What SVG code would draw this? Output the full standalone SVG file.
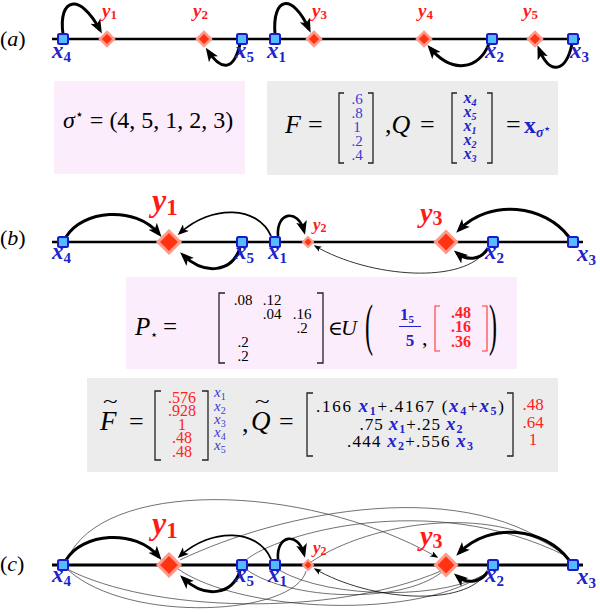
<svg xmlns="http://www.w3.org/2000/svg" width="600" height="614" viewBox="0 0 600 614" font-family="Liberation Serif, DejaVu Serif, serif">
<defs>
<style>
.gb{fill:#ececec}
.pk{fill:#fcedfc}
.ax{stroke:#000;stroke-width:2.3;fill:none}
.sq{fill:#55bbff;stroke:#1a1acc;stroke-width:2}
.dm{fill:#ff3311;stroke:#ff9a8a;stroke-width:2.5}
.xl{font-weight:bold;font-style:italic;font-size:23px;fill:#2222cc}
.xl .s{font-style:normal;font-size:15px}
.yl{font-weight:bold;font-style:italic;font-size:19px;fill:#ff1a1a}
.t{fill:none;stroke:#000;stroke-width:3;marker-end:url(#hT)}
.m{fill:none;stroke:#000;stroke-width:1.8;marker-end:url(#hM)}
.n{fill:none;stroke:#000;stroke-width:0.8;marker-end:url(#hS)}
.th{fill:none;stroke:#333;stroke-width:0.7}
.br{fill:none;stroke:#222;stroke-width:1.3}
.rbr{fill:none;stroke:#ff3333;stroke-width:1.1}
.bbx{font-weight:bold;font-style:italic;fill:#2222cc}
.bbs{font-weight:bold;fill:#2222cc}
</style>
<marker id="hT" viewBox="0 0 14 12" refX="10" refY="6" markerWidth="14" markerHeight="12" markerUnits="userSpaceOnUse" orient="auto"><path d="M0,0.5 L14,6 L0,11.5 L3.5,6 z" fill="#000"/></marker>
<marker id="hM" viewBox="0 0 11 9" refX="8" refY="4.5" markerWidth="11" markerHeight="9" markerUnits="userSpaceOnUse" orient="auto"><path d="M0,0 L11,4.5 L0,9 L2.8,4.5 z" fill="#000"/></marker>
<marker id="hS" viewBox="0 0 8 6" refX="6.5" refY="3" markerWidth="8" markerHeight="6" markerUnits="userSpaceOnUse" orient="auto"><path d="M0,0 L8,3 L0,6 L2,3 z" fill="#000"/></marker>
</defs>

<text x="0" y="46" font-size="22">(<tspan font-style="italic">a</tspan>)</text>
<text x="0" y="245" font-size="22">(<tspan font-style="italic">b</tspan>)</text>
<text x="0" y="571" font-size="22">(<tspan font-style="italic">c</tspan>)</text>

<g id="box-sigma">
<rect class="pk" x="54" y="81" width="191" height="93"/>
<text x="63" y="128" font-size="24"><tspan font-style="italic">σ</tspan><tspan font-size="14" dy="-9">⋆</tspan><tspan dy="9"> = (4, 5, 1, 2, 3)</tspan></text>
</g>
<g id="box-FQ">
<rect class="gb" x="267" y="81" width="291" height="94"/>
<text x="285" y="133" font-size="26" font-style="italic">F</text>
<text x="308" y="133" font-size="26">=</text>
<path class="br" d="M344,93 H339 V163 H344 M368,93 H373 V163 H368"/>
<g font-size="15" text-anchor="middle">
<text x="357" y="104" fill="#3a3ad6">.6</text>
<text x="357" y="118" fill="#3a3ad6">.8</text>
<text x="357" y="132" fill="#3a3ad6">1</text>
<text x="357" y="146" fill="#3a3ad6">.2</text>
<text x="357" y="160" fill="#3a3ad6">.4</text>
</g>
<text x="385" y="133" font-size="26">,<tspan font-style="italic">Q</tspan></text>
<text x="420" y="133" font-size="26">=</text>
<path class="br" d="M457,93 H452 V163 H457 M487,93 H492 V163 H487"/>
<text class="bbx" x="470" y="103" font-size="16" text-anchor="middle">x<tspan class="bbs" font-size="10" dy="3">4</tspan></text>
<text class="bbx" x="470" y="117" font-size="16" text-anchor="middle">x<tspan class="bbs" font-size="10" dy="3">5</tspan></text>
<text class="bbx" x="470" y="131" font-size="16" text-anchor="middle">x<tspan class="bbs" font-size="10" dy="3">1</tspan></text>
<text class="bbx" x="470" y="145" font-size="16" text-anchor="middle">x<tspan class="bbs" font-size="10" dy="3">2</tspan></text>
<text class="bbx" x="470" y="159" font-size="16" text-anchor="middle">x<tspan class="bbs" font-size="10" dy="3">3</tspan></text>
<text x="506" y="133" font-size="26">=</text>
<text class="bbs" x="524" y="133" font-size="24">x<tspan class="bbx" font-size="14" dy="4">σ</tspan><tspan font-size="10" dy="-5">⋆</tspan></text>
</g>

<g id="box-P">
<rect class="pk" x="126" y="277" width="391" height="92"/>
<text x="135" y="335" font-size="25"><tspan font-style="italic">P</tspan><tspan font-size="13" dy="4">⋆</tspan></text>
<text x="163" y="335" font-size="25">=</text>
<path class="br" d="M225,293 H219 V363 H225 M317,293 H323 V363 H317"/>
<g font-size="15" text-anchor="middle">
<text x="243" y="305">.08</text>
<text x="272" y="305">.12</text>
<text x="272" y="319">.04</text>
<text x="302" y="319">.16</text>
<text x="302" y="333">.2</text>
<text x="243" y="347">.2</text>
<text x="243" y="361">.2</text>
</g>
<text x="328" y="335" font-size="20">∈</text>
<text x="341" y="335" font-size="22" font-style="italic">U</text>
<text transform="translate(365,344) scale(1,2.4)" font-size="24">(</text>
<text class="bbs" x="400" y="320" font-size="17">1<tspan font-size="11" dy="3">5</tspan></text>
<path d="M399,326.5 H421" stroke="#2222cc" stroke-width="1"/>
<text class="bbs" x="410" y="346" font-size="17" text-anchor="middle">5</text>
<text x="422" y="345" font-size="22">,</text>
<path class="rbr" d="M440,306 H435 V351 H440 M482,306 H487 V351 H482"/>
<g font-size="16" font-weight="bold" text-anchor="middle">
<text x="461" y="318" fill="#ff2222">.48</text>
<text x="461" y="332" fill="#ff2222">.16</text>
<text x="461" y="347" fill="#ff2222">.36</text>
</g>
<text transform="translate(489,344) scale(1,2.4)" font-size="24">)</text>
</g>

<g id="box-FQtilde">
<rect class="gb" x="87" y="378" width="471" height="94"/>
<text x="100" y="430" font-size="27" font-style="italic">F</text>
<text transform="translate(103,408) scale(1.5,1)" font-size="18">~</text>
<text x="129" y="430" font-size="26">=</text>
<path class="br" d="M161,391 H155 V460 H161 M202,391 H208 V460 H202"/>
<g font-size="16" text-anchor="middle">
<text x="182" y="403" fill="#ff2222">.576</text>
<text x="182" y="416" fill="#ff2222">.928</text>
<text x="182" y="430" fill="#ff2222">1</text>
<text x="182" y="443" fill="#ff2222">.48</text>
<text x="182" y="457" fill="#ff2222">.48</text>
</g>
<g font-size="15" font-style="italic">
<text x="214" y="397" fill="#3a3ad6">x<tspan font-size="10" font-style="normal" dy="3">1</tspan></text>
<text x="214" y="411" fill="#3a3ad6">x<tspan font-size="10" font-style="normal" dy="3">2</tspan></text>
<text x="214" y="424" fill="#3a3ad6">x<tspan font-size="10" font-style="normal" dy="3">3</tspan></text>
<text x="214" y="437" fill="#3a3ad6">x<tspan font-size="10" font-style="normal" dy="3">4</tspan></text>
<text x="214" y="450" fill="#3a3ad6">x<tspan font-size="10" font-style="normal" dy="3">5</tspan></text>
</g>
<text x="242" y="432" font-size="26">,</text>
<text x="251" y="430" font-size="27" font-style="italic">Q</text>
<text transform="translate(255,408) scale(1.5,1)" font-size="18">~</text>
<text x="279" y="430" font-size="26">=</text>
<path class="br" d="M313,393 H307 V456 H313 M507,393 H513 V456 H507"/>
<text x="410" y="412" font-size="17" text-anchor="middle" textLength="188" lengthAdjust="spacing">.166 <tspan class="bbx" font-size="19">x</tspan><tspan class="bbs" font-size="12" dy="3">1</tspan><tspan dy="-3">+.4167 (</tspan><tspan class="bbx" font-size="19">x</tspan><tspan class="bbs" font-size="12" dy="3">4</tspan><tspan dy="-3">+</tspan><tspan class="bbx" font-size="19">x</tspan><tspan class="bbs" font-size="12" dy="3">5</tspan><tspan dy="-3">)</tspan></text>
<text x="411" y="430" font-size="17" text-anchor="middle" textLength="103" lengthAdjust="spacing">.75 <tspan class="bbx" font-size="19">x</tspan><tspan class="bbs" font-size="12" dy="3">1</tspan><tspan dy="-3">+.25 </tspan><tspan class="bbx" font-size="19">x</tspan><tspan class="bbs" font-size="12" dy="3">2</tspan></text>
<text x="410" y="447" font-size="17" text-anchor="middle" textLength="126" lengthAdjust="spacing">.444 <tspan class="bbx" font-size="19">x</tspan><tspan class="bbs" font-size="12" dy="3">2</tspan><tspan dy="-3">+.556 </tspan><tspan class="bbx" font-size="19">x</tspan><tspan class="bbs" font-size="12" dy="3">3</tspan></text>
<g font-size="17" text-anchor="middle">
<text x="533" y="410" fill="#ff2222">.48</text>
<text x="533" y="428" fill="#ff2222">.64</text>
<text x="533" y="445" fill="#ff2222">1</text>
</g>
</g>

<g id="axes">
<path class="ax" d="M52,39 H580"/>
<path class="ax" d="M52,242 H583"/>
<path class="ax" d="M52,565 H583" style="stroke-width:2.8"/>
</g>

<g id="connectors">
<g id="conn-a">
<path class="t" d="M63,34 C58,-2 80,-8 100,30"/>
<path class="t" d="M240,44 C234,70 222,72 208,51"/>
<path class="t" d="M275,34 C272,-3 292,-8 309,29"/>
<path class="t" d="M489,44 C478,70 452,74 430,48"/>
<path class="t" d="M572,44 C566,72 550,76 539,49"/>
</g>
<g id="conn-b">
<path class="t" d="M66,237 C82,210 135,205 159,234"/>
<path class="m" d="M271,236 C258,206 212,204 180,233"/>
<path class="t" d="M240,248 C232,272 205,276 183,255"/>
<path class="t" d="M278,236 C276,212 298,208 304,231" style="stroke-width:2.6"/>
<path class="n" d="M487,249 C465,285 370,278 315,246"/>
<path class="t" d="M569,237 C545,205 490,198 459,230"/>
<path class="t" d="M488,248 C482,259 468,262 457,253"/>
</g>
<g id="conn-c">
<path class="th" d="M67,560 C100,480 300,480 437,557" style="marker-end:url(#hS)"/>
<path class="th" d="M180,560 C280,512 470,472 568,558"/>
<path class="th" d="M311,562 C370,522 500,500 568,558"/>
<path class="th" d="M246,560 C275,535 430,488 566,556"/>
<path class="th" d="M67,569 C150,612 330,618 441,571"/>
<path class="th" d="M178,569 C240,612 420,622 489,571"/>
<path class="th" d="M247,570 C290,600 400,605 442,572"/>
<path class="th" d="M279,570 C330,600 450,600 490,571"/>
<path class="th" d="M306,571 C295,615 130,625 68,570"/>
<g transform="translate(0,323)">
<path class="t" d="M66,237 C82,210 135,205 159,234"/>
<path class="m" d="M271,236 C258,206 212,204 180,233"/>
<path class="t" d="M240,248 C232,272 205,276 183,255"/>
<path class="t" d="M278,236 C276,212 298,208 304,231" style="stroke-width:2.6"/>
<path class="n" d="M487,249 C465,285 370,278 315,246"/>
<path class="t" d="M569,237 C545,205 490,198 459,230"/>
<path class="t" d="M488,248 C482,259 468,262 457,253"/>
</g>
</g>
</g>

<g id="a-x4"><rect class="sq" x="58" y="34" width="10" height="10" rx="1.5"/><text class="xl" x="52" y="58">x<tspan class="s" dy="4">4</tspan></text></g>
<g id="a-y1"><polygon class="dm" points="107,32 114,39 107,46 100,39"/><text class="yl" x="102" y="17">y<tspan font-size="13" font-style="normal" dy="2">1</tspan></text></g>
<g id="a-y2"><polygon class="dm" points="204,32 211,39 204,46 197,39"/><text class="yl" x="193" y="17">y<tspan font-size="13" font-style="normal" dy="2">2</tspan></text></g>
<g id="a-x5"><rect class="sq" x="237" y="34" width="10" height="10" rx="1.5"/><text class="xl" x="235" y="58">x<tspan class="s" dy="4">5</tspan></text></g>
<g id="a-x1"><rect class="sq" x="270" y="34" width="10" height="10" rx="1.5"/><text class="xl" x="267" y="58">x<tspan class="s" dy="4">1</tspan></text></g>
<g id="a-y3"><polygon class="dm" points="314,32 321,39 314,46 307,39"/><text class="yl" x="312" y="17">y<tspan font-size="13" font-style="normal" dy="2">3</tspan></text></g>
<g id="a-y4"><polygon class="dm" points="424,32 431,39 424,46 417,39"/><text class="yl" x="418" y="17">y<tspan font-size="13" font-style="normal" dy="2">4</tspan></text></g>
<g id="a-x2"><rect class="sq" x="487" y="34" width="10" height="10" rx="1.5"/><text class="xl" x="485" y="58">x<tspan class="s" dy="4">2</tspan></text></g>
<g id="a-y5"><polygon class="dm" points="535,32 542,39 535,46 528,39"/><text class="yl" x="523" y="17">y<tspan font-size="13" font-style="normal" dy="2">5</tspan></text></g>
<g id="a-x3"><rect class="sq" x="568" y="34" width="10" height="10" rx="1.5"/><text class="xl" x="570" y="58">x<tspan class="s" dy="4">3</tspan></text></g>

<g id="b-x4"><rect class="sq" x="58" y="237" width="10" height="10" rx="1.5"/><text class="xl" x="52" y="259">x<tspan class="s" dy="4">4</tspan></text></g>
<g id="b-y1"><polygon class="dm" points="169,231 180,242 169,253 158,242" style="stroke-width:3"/><text class="yl" x="152" y="211" style="font-size:32px">y<tspan dy="4" style="font-size:23px;font-style:normal">1</tspan></text></g>
<g id="b-x5"><rect class="sq" x="237" y="237" width="10" height="10" rx="1.5"/><text class="xl" x="235" y="259">x<tspan class="s" dy="4">5</tspan></text></g>
<g id="b-x1"><rect class="sq" x="270" y="237" width="10" height="10" rx="1.5"/><text class="xl" x="268" y="259">x<tspan class="s" dy="4">1</tspan></text></g>
<g id="b-y2"><polygon class="dm" points="308,237 313,242 308,247 303,242" style="stroke-width:2"/><text class="yl" x="313" y="230" style="font-size:17px">y<tspan dy="2" style="font-size:12px;font-style:normal">2</tspan></text></g>
<g id="b-y3"><polygon class="dm" points="446,231.5 456.5,242 446,252.5 435.5,242" style="stroke-width:3"/><text class="yl" x="420" y="222" style="font-size:28px">y<tspan dy="3" style="font-size:20px;font-style:normal">3</tspan></text></g>
<g id="b-x2"><rect class="sq" x="488" y="237" width="10" height="10" rx="1.5"/><text class="xl" x="485" y="259">x<tspan class="s" dy="4">2</tspan></text></g>
<g id="b-x3"><rect class="sq" x="568" y="237" width="10" height="10" rx="1.5"/><text class="xl" x="577" y="261">x<tspan class="s" dy="4">3</tspan></text></g>

<g id="c-x4"><rect class="sq" x="58" y="560" width="10" height="10" rx="1.5"/><text class="xl" x="52" y="582">x<tspan class="s" dy="4">4</tspan></text></g>
<g id="c-y1"><polygon class="dm" points="169,554 180,565 169,576 158,565" style="stroke-width:3"/><text class="yl" x="152" y="534" style="font-size:32px">y<tspan dy="4" style="font-size:23px;font-style:normal">1</tspan></text></g>
<g id="c-x5"><rect class="sq" x="237" y="560" width="10" height="10" rx="1.5"/><text class="xl" x="235" y="582">x<tspan class="s" dy="4">5</tspan></text></g>
<g id="c-x1"><rect class="sq" x="270" y="560" width="10" height="10" rx="1.5"/><text class="xl" x="268" y="582">x<tspan class="s" dy="4">1</tspan></text></g>
<g id="c-y2"><polygon class="dm" points="308,560 313,565 308,570 303,565" style="stroke-width:2"/><text class="yl" x="313" y="553" style="font-size:17px">y<tspan dy="2" style="font-size:12px;font-style:normal">2</tspan></text></g>
<g id="c-y3"><polygon class="dm" points="446,554.5 456.5,565 446,575.5 435.5,565" style="stroke-width:3"/><text class="yl" x="420" y="545" style="font-size:28px">y<tspan dy="3" style="font-size:20px;font-style:normal">3</tspan></text></g>
<g id="c-x2"><rect class="sq" x="488" y="560" width="10" height="10" rx="1.5"/><text class="xl" x="485" y="582">x<tspan class="s" dy="4">2</tspan></text></g>
<g id="c-x3"><rect class="sq" x="568" y="560" width="10" height="10" rx="1.5"/><text class="xl" x="577" y="584">x<tspan class="s" dy="4">3</tspan></text></g>
</svg>
